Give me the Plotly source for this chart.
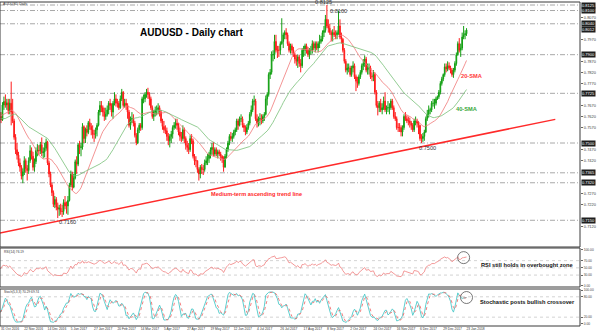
import numpy as np
import plotly.graph_objects as go

# ---------------- data (prices in pips, 1 pip = 0.0001) ----------------
# history before the visible window (Sep-Oct 2016), only feeds the indicators
first_open = 7515
hist_close = [7535,7580,7640,7660,7720,7630,7530,7510,7500,7480,7480,7460,7560,7580,7630,7650,7635,7620,7650,7700,7665,7655,
              7630,7600,7570,7600,7600,7620,7580,7610,7630,7620,7610,7645,7700,7720,7635,7620,7595,7650,7640,7620]
hist_high = [7555,7600,7650,7700,7735,7730,7640,7545,7535,7520,7510,7500,7570,7605,7640,7670,7660,7650,7665,7710,7715,7680,
             7675,7650,7610,7610,7640,7640,7630,7615,7650,7650,7640,7665,7720,7735,7725,7660,7640,7670,7670,7660]
hist_low = [7490,7525,7570,7620,7650,7615,7520,7475,7480,7470,7440,7445,7455,7550,7560,7620,7610,7600,7600,7640,7650,7620,
            7615,7575,7545,7550,7560,7590,7570,7540,7580,7600,7590,7600,7635,7680,7625,7610,7585,7590,7620,7600]

# visible daily bars 31 Oct 2016 .. 23 Jan 2018
close_pips = [
    7605,
    7672,7688,7672,7682,7646,7680,7640,7600,7526,7470,7445,7410,7390,7350,7370,7420,7385,7375,7420,7465,7440,7390,
    7416,7466,7467,7465,7492,7456,7460,7476,7504,7410,7360,7310,7275,7222,7244,7210,7200,7205,7190,7190,7230,7215,
    7215,7240,7310,7360,7300,7342,7415,7404,7492,7480,7482,7574,7520,7562,7548,7592,7575,7560,7540,7540,7560,7580,
    7640,7670,7660,7640,7620,7630,7650,7680,7670,7640,7680,7700,7680,7680,7660,7700,7730,7670,7680,7670,
    7640,7580,7610,7610,7590,7535,7500,7560,7580,7570,7700,7700,7720,7730,7720,7700,7660,7620,7640,7650,7650,7660,7640,
    7600,7575,7560,7555,7530,7510,7530,7540,7570,7580,7590,7580,7550,7530,7520,7560,7520,7490,7480,7470,
    7520,7510,7440,7420,7420,7380,7360,7390,7380,7380,7410,7420,7430,7450,7470,7480,7450,7470,7450,7460,7450,7440,7430,
    7390,7440,7470,7500,7530,7520,7530,7550,7560,7600,7580,7610,7610,7580,7570,7550,7570,7590,7630,7650,7690,7690,
    7610,7590,7610,7610,7600,7620,7630,7700,7720,7810,7820,7900,7900,7960,7920,7920,7920,7950,7960,7990,8000,
    7990,7950,7920,7940,7920,7900,7880,7870,7890,7860,7850,7920,7920,7940,7920,7900,7920,7920,7950,7930,7950,7930,7950,
    7960,7970,8000,8010,8060,8030,8020,8000,7990,8000,7990,7990,8000,8030,7980,7970,7920,7870,7830,7840,7840,
    7810,7840,7850,7800,7780,7770,7800,7820,7850,7860,7880,7830,7840,7840,7800,7800,7810,7730,7670,7660,7680,7650,
    7660,7690,7650,7660,7660,7660,7690,7660,7620,7610,7570,7570,7570,7550,7570,7620,7610,7600,7600,7590,7580,7560,
    7600,7600,7590,7580,7520,7520,7530,7550,7610,7630,7650,7650,7680,7680,7680,7700,7710,7730,7770,7790,7810,
    7845,7835,7850,7840,7830,7810,7830,7860,7900,7950,7920,7930,7980,7990,7995,8012,
]
high_pips = [
    7640,
    7685,7710,7720,7700,7700,7700,7778,7700,7610,7540,7500,7460,7430,7400,7385,7440,7430,7400,7435,7490,7480,7460,
    7430,7480,7495,7490,7505,7525,7480,7500,7520,7510,7420,7370,7320,7285,7260,7255,7230,7220,7225,7220,7245,7260,
    7235,7260,7320,7375,7370,7360,7425,7440,7500,7510,7500,7590,7580,7570,7580,7600,7610,7590,7580,7560,7570,7590,
    7650,7690,7690,7670,7660,7660,7670,7690,7700,7680,7690,7730,7720,7700,7690,7715,7745,7735,7700,7700,
    7680,7650,7620,7640,7630,7600,7545,7570,7590,7590,7710,7720,7730,7745,7750,7730,7710,7670,7650,7665,7670,7680,7670,
    7650,7610,7600,7580,7570,7545,7540,7555,7580,7595,7610,7610,7590,7570,7550,7580,7570,7530,7510,7500,
    7535,7540,7520,7450,7440,7420,7390,7400,7405,7400,7425,7440,7450,7460,7480,7500,7505,7480,7480,7470,7470,7460,7445,
    7440,7450,7480,7510,7540,7550,7545,7560,7570,7610,7610,7620,7630,7620,7590,7580,7585,7600,7640,7670,7700,7715,
    7700,7630,7620,7635,7630,7630,7640,7715,7730,7820,7835,7915,7920,7990,7990,7940,7940,7960,8065,8000,8010,
    8020,8000,7960,7950,7950,7935,7910,7900,7900,7900,7880,7930,7940,7950,7950,7935,7930,7940,7965,7960,7960,7960,7960,
    7990,7985,8010,8030,8080,8125,8060,8040,8010,8015,8030,8010,8010,8100,8060,8000,7975,7930,7880,7860,7860,
    7850,7850,7870,7860,7810,7800,7810,7830,7860,7880,7897,7890,7860,7860,7850,7820,7830,7820,7740,7690,7690,7700,
    7680,7710,7730,7670,7690,7680,7700,7700,7670,7640,7620,7590,7590,7580,7580,7630,7640,7625,7620,7615,7600,7590,
    7610,7620,7610,7600,7580,7540,7545,7560,7620,7650,7670,7660,7690,7700,7700,7710,7715,7740,7780,7800,7815,
    7860,7860,7870,7865,7850,7840,7840,7870,7910,7960,7975,7950,8000,8030,8010,8020,
]
low_pips = [
    7590,
    7600,7650,7660,7650,7630,7630,7580,7590,7515,7450,7425,7395,7370,7335,7318,7355,7365,7330,7360,7410,7425,7375,
    7370,7405,7440,7445,7450,7440,7430,7435,7465,7400,7345,7300,7260,7210,7205,7195,7160,7170,7175,7165,7175,7200,
    7180,7175,7235,7300,7285,7295,7335,7360,7395,7450,7440,7470,7500,7500,7530,7540,7560,7535,7520,7505,7520,7530,
    7575,7625,7640,7620,7600,7605,7620,7630,7650,7620,7610,7670,7665,7660,7650,7655,7690,7660,7660,7650,
    7610,7570,7560,7590,7575,7525,7490,7495,7545,7555,7560,7680,7685,7705,7700,7670,7650,7610,7600,7620,7625,7630,7620,
    7590,7560,7545,7540,7510,7490,7480,7500,7520,7560,7565,7560,7535,7510,7505,7510,7500,7470,7460,7450,
    7460,7495,7430,7400,7390,7365,7330,7340,7360,7355,7370,7400,7400,7410,7430,7445,7440,7440,7440,7430,7440,7420,7410,
    7370,7390,7430,7460,7490,7510,7505,7520,7535,7550,7560,7575,7595,7570,7550,7535,7540,7560,7580,7620,7640,7670,
    7600,7570,7575,7580,7585,7590,7600,7625,7670,7710,7790,7810,7870,7880,7910,7885,7890,7900,7945,7930,7970,
    7970,7940,7910,7905,7905,7890,7860,7850,7840,7845,7820,7840,7890,7895,7905,7890,7880,7900,7905,7920,7910,7920,7910,
    7930,7950,7960,7980,8000,8020,8000,7990,7960,7960,7980,7970,7970,7990,7970,7950,7910,7860,7820,7810,7820,
    7800,7800,7820,7790,7735,7750,7760,7790,7810,7830,7845,7820,7810,7810,7790,7780,7780,7720,7660,7625,7640,7640,
    7630,7650,7640,7630,7640,7630,7650,7650,7610,7600,7560,7550,7550,7530,7530,7560,7600,7590,7580,7570,7560,7550,
    7550,7580,7570,7540,7510,7500,7505,7510,7545,7600,7615,7630,7640,7665,7655,7670,7695,7700,7720,7760,7780,
    7800,7820,7825,7830,7815,7800,7795,7820,7850,7895,7910,7890,7920,7970,7970,7985,
]

date_labels = ["31 Oct 2016", "22 Nov 2016", "14 Dec 2016", "5 Jan 2017", "27 Jan 2017", "20 Feb 2017",
               "14 Mar 2017", "5 Apr 2017", "27 Apr 2017", "19 May 2017", "12 Jun 2017", "4 Jul 2017",
               "26 Jul 2017", "17 Aug 2017", "8 Sep 2017", "2 Oct 2017", "24 Oct 2017", "16 Nov 2017",
               "6 Dec 2017", "29 Dec 2017", "23 Jan 2018"]
label_step = 16

levels = [0.8125, 0.8100, 0.8040, 0.7900, 0.7725, 0.7500, 0.7365, 0.7320, 0.7150]
trend_anchor_idx = [39, 289]          # 23 Dec 2016 and 8 Dec 2017 lows
trend_anchor_price = [0.7146, 0.7483]
trend_extent = [-1, 381]

rsi_label = "RSI(14) 76.19"
stoch_label = "Stoch(5,3,3) 70.29 69.74"

assert len(hist_close) == len(hist_high) == len(hist_low)
assert len(close_pips) == len(high_pips) == len(low_pips), (len(close_pips), len(high_pips), len(low_pips))

# ---------------- series ----------------
n_hist = len(hist_close)
C = np.array(hist_close + close_pips, float) / 1e4
H = np.array(hist_high + high_pips, float) / 1e4
L = np.array(hist_low + low_pips, float) / 1e4
n = len(C)
X = np.arange(n) - n_hist
O = np.concatenate([[first_open / 1e4], C[:-1]])
H = np.maximum(H, np.maximum(O, C))
L = np.minimum(L, np.minimum(O, C))


def sma(a, p):
    out = np.full(len(a), np.nan)
    for i in range(p - 1, len(a)):
        w = a[i - p + 1:i + 1]
        if not np.any(np.isnan(w)):
            out[i] = w.mean()
    return out


sma20 = sma(C, 20)
sma40 = sma(C, 40)

d = np.diff(C)
gain = np.clip(d, 0, None)
loss = np.clip(-d, 0, None)
rsi = np.full(n, np.nan)
ag, al = gain[:14].mean(), loss[:14].mean()
rsi[14] = 100 - 100 / (1 + ag / al)
for i in range(14, len(d)):
    ag = (ag * 13 + gain[i]) / 14
    al = (al * 13 + loss[i]) / 14
    rsi[i + 1] = 100.0 if al == 0 else 100 - 100 / (1 + ag / al)

kp, slow, dp = 5, 3, 3
ll = np.array([L[max(0, i - kp + 1):i + 1].min() for i in range(n)])
hh = np.array([H[max(0, i - kp + 1):i + 1].max() for i in range(n)])
K = np.full(n, np.nan)
for i in range(kp + slow - 2, n):
    num = (C[i - slow + 1:i + 1] - ll[i - slow + 1:i + 1]).sum()
    den = (hh[i - slow + 1:i + 1] - ll[i - slow + 1:i + 1]).sum()
    K[i] = 100 * num / den if den > 0 else 50
Dl = sma(K, dp)

# ---------------- geometry of the panels ----------------
PX_TOP, PX_BOT = 2, 326          # plot area top / bottom in pixels
PLOT_W = 580


def py(v):                       # pixel row -> paper y
    return (PX_BOT - v) / (PX_BOT - PX_TOP)


def pxp(v):                      # pixel column -> paper x
    return v / PLOT_W


main_dom = [py(247), 1.0]
rsi_dom = [py(287), py(248)]
sto_dom = [0.0, py(289)]
price_range = [0.70290, 0.81386]

GREEN = "#14a014"
RED = "#ff1c1c"

fig = go.Figure()
fig.add_trace(go.Candlestick(
    x=X, open=O, high=H, low=L, close=C, xaxis="x", yaxis="y",
    increasing=dict(line=dict(color=GREEN, width=1), fillcolor=GREEN),
    decreasing=dict(line=dict(color=RED, width=1), fillcolor=RED),
    whiskerwidth=0, hoverinfo="skip"))
fig.add_trace(go.Scatter(x=X, y=sma20, mode="lines", line=dict(color="#f07878", width=0.8),
                         xaxis="x", yaxis="y", hoverinfo="skip"))
fig.add_trace(go.Scatter(x=X, y=sma40, mode="lines", line=dict(color="#78c078", width=0.8),
                         xaxis="x", yaxis="y", hoverinfo="skip"))

slope = (trend_anchor_price[1] - trend_anchor_price[0]) / (trend_anchor_idx[1] - trend_anchor_idx[0])
tx = np.array(trend_extent, float)
ty = trend_anchor_price[0] + slope * (tx - trend_anchor_idx[0])
fig.add_trace(go.Scatter(x=tx, y=ty, mode="lines", line=dict(color="#ff2a2a", width=1.5),
                         xaxis="x", yaxis="y", hoverinfo="skip"))

fig.add_trace(go.Scatter(x=X, y=rsi, mode="lines", line=dict(color="#f08080", width=0.8),
                         xaxis="x", yaxis="y2", hoverinfo="skip"))
fig.add_trace(go.Scatter(x=X, y=K, mode="lines", line=dict(color="#4cc8c8", width=0.9),
                         xaxis="x", yaxis="y3", hoverinfo="skip"))
fig.add_trace(go.Scatter(x=X, y=Dl, mode="lines", line=dict(color="#f06060", width=0.8, dash="dot"),
                         xaxis="x", yaxis="y3", hoverinfo="skip"))

shapes = []
for lv in levels:
    shapes.append(dict(type="line", xref="paper", yref="y", x0=0, x1=1, y0=lv, y1=lv,
                       line=dict(color="#a8a8a8", width=1, dash="5px,2px,1px,2px"), layer="below"))
for lv in [70, 50, 30]:
    shapes.append(dict(type="line", xref="paper", yref="y2", x0=0, x1=1, y0=lv, y1=lv,
                       line=dict(color="#c0c0c0", width=0.7, dash="dot"), layer="below"))
for lv in [80, 20]:
    shapes.append(dict(type="line", xref="paper", yref="y3", x0=0, x1=1, y0=lv, y1=lv,
                       line=dict(color="#c0c0c0", width=0.7, dash="dot"), layer="below"))
for dom in (main_dom, rsi_dom, sto_dom):
    shapes.append(dict(type="rect", xref="paper", yref="paper", x0=0, x1=1, y0=dom[0], y1=dom[1],
                       line=dict(color="#3a3a3a", width=1), fillcolor="rgba(0,0,0,0)"))

last = n - 1
ic = last - 2
shapes.append(dict(type="circle", xref="x", yref="y2", xsizemode="pixel", ysizemode="pixel",
                   xanchor=X[ic], yanchor=rsi[ic], x0=-6, x1=6, y0=-6, y1=6,
                   line=dict(color="#555", width=0.8)))
shapes.append(dict(type="circle", xref="x", yref="y3", xsizemode="pixel", ysizemode="pixel",
                   xanchor=X[last], yanchor=K[last], x0=-6, x1=6, y0=-6, y1=6,
                   line=dict(color="#555", width=0.8)))

ann = []
FONT = "Liberation Sans, Arial, sans-serif"


def txt(text, x, y, size, color="#000", bold=False, xanchor="center", yanchor="middle", **kw):
    d0 = dict(text=("<b>%s</b>" % text) if bold else text, x=x, y=y, showarrow=False,
              font=dict(family=FONT, size=size, color=color), xanchor=xanchor, yanchor=yanchor)
    d0.setdefault("xref", "paper")
    d0.setdefault("yref", "paper")
    d0.update(kw)
    ann.append(d0)


txt("AUDUSD,Daily", pxp(1), py(4), 3.6, "#333", xanchor="left")
txt("AUDUSD - Daily chart", pxp(191), py(33), 10, "#000", bold=True)

vis = slice(n_hist, n)
Hv, Lv = H[vis], L[vis]
i_top = int(np.argmax(Hv))
i_top2 = i_top + 4 + int(np.argmax(Hv[i_top + 4:i_top + 20]))
i_low = int(np.argmin(Lv))
i_low2 = len(Lv) - 60 + int(np.argmin(Lv[-60:]))
txt("%.4f" % Hv[i_top], i_top, Hv[i_top], 5.6, "#333", xref="x", yref="y", xshift=-3, yshift=3)
txt("%.4f" % Hv[i_top2], i_top2, Hv[i_top2], 5.6, "#333", xref="x", yref="y", xshift=0, yshift=0)
txt("%.4f" % Lv[i_low], i_low, Lv[i_low], 5.6, "#333", xref="x", yref="y", xshift=10, yshift=-4)
txt("%.4f" % Lv[i_low2], i_low2, Lv[i_low2], 5.6, "#333", xref="x", yref="y", xshift=6, yshift=-5)

txt("20-SMA", pxp(471), py(76), 5.7, "#ff3a3a", bold=True)
txt("40-SMA", pxp(466), py(109), 5.7, "#3aa83a", bold=True)
txt("Medium-term ascending trend line", pxp(256), py(194), 5.6, "#ff2a2a", bold=True)
txt("RSI still holds in overbought zone", pxp(527), py(265), 5.7, "#111", bold=True)
txt("Stochastic posts bullish crossover", pxp(527), py(302), 5.7, "#111", bold=True)
txt(rsi_label, pxp(2), py(252), 3.2, "#333", xanchor="left")
txt(stoch_label, pxp(2), py(292), 3.2, "#333", xanchor="left")

marked = levels + [float(C[-1])]
for lv in marked:
    ann.append(dict(text="%.4f" % lv, x=1, y=lv, xref="paper", yref="y", showarrow=False,
                    xanchor="left", yanchor="middle", xshift=1,
                    font=dict(family=FONT, size=4, color="white"),
                    bgcolor="#1e1e1e", borderpad=0))

price_ticks = [round(0.7120 + 0.005 * k, 4) for k in range(20)]
price_ticks = [t for t in price_ticks if min(abs(t - m) for m in marked) > 0.0022]
tick_font = dict(family=FONT, size=4, color="#444")

fig.update_layout(
    width=600, height=334, margin=dict(l=0, r=20, t=PX_TOP, b=334 - PX_BOT),
    paper_bgcolor="white", plot_bgcolor="white", showlegend=False,
    shapes=shapes, annotations=ann,
    xaxis=dict(domain=[0, 1], range=[-0.7, 398], anchor="y3",
               tickvals=[k * label_step for k in range(len(date_labels))], ticktext=date_labels,
               tickfont=dict(family=FONT, size=3.3, color="#333"), ticklabelposition="outside right",
               tickangle=0, showgrid=False, zeroline=False, showline=False, ticks="",
               rangeslider=dict(visible=False)),
    yaxis=dict(domain=main_dom, range=price_range, anchor="x", side="right",
               tickvals=price_ticks, tickformat=".4f", tickfont=tick_font,
               ticks="outside", ticklen=2, tickcolor="#666", showgrid=False, zeroline=False),
    yaxis2=dict(domain=rsi_dom, range=[-3, 105], anchor="x", side="right",
                tickvals=[0, 30, 50, 70, 100], ticktext=["0.00", "30.00", "50.00", "70.00", "100.00"],
                tickfont=dict(family=FONT, size=3.3, color="#444"),
                ticks="outside", ticklen=2, tickcolor="#666", showgrid=False, zeroline=False),
    yaxis3=dict(domain=sto_dom, range=[-6, 103], anchor="x", side="right",
                tickvals=[0, 20, 80, 100], ticktext=["0.00", "20.00", "80.00", "100.00"],
                tickfont=dict(family=FONT, size=3.3, color="#444"),
                ticks="outside", ticklen=2, tickcolor="#666", showgrid=False, zeroline=False),
)

fig.write_html("out.html")
